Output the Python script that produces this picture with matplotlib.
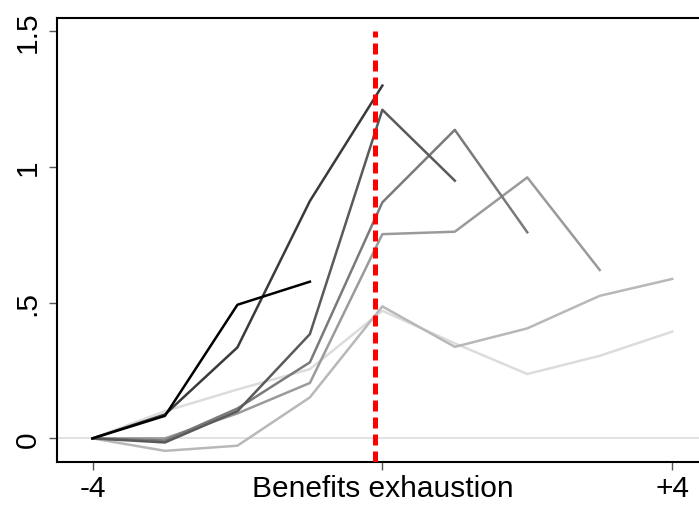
import numpy as np
import matplotlib.pyplot as plt

plt.rcParams['font.family'] = ['Liberation Sans', 'DejaVu Sans']

# periods relative to benefits exhaustion
periods = [-4, -3, -2, -1, 0, 1, 2, 3, 4]
tick_pos = [-4, 0, 4]
tick_labels = ['-4', 'Benefits exhaustion', '+4']
ytick_pos = [0, 0.5, 1, 1.5]
ytick_labels = ['0', '.5', '1', '1.5']

# one profile per group, each followed for a different number of periods
group_1 = [0, 0.083, 0.492, 0.577]
group_2 = [0, 0.088, 0.335, 0.874, 1.299]
group_3 = [0, -0.015, 0.100, 0.384, 1.210, 0.949]
group_4 = [0, -0.008, 0.110, 0.280, 0.869, 1.136, 0.759]
group_5 = [0, 0.000, 0.092, 0.204, 0.752, 0.761, 0.961, 0.620]
group_6 = [0, -0.046, -0.027, 0.151, 0.486, 0.337, 0.405, 0.525, 0.587]
group_7 = [0, 0.100, 0.180, 0.255, 0.470, 0.350, 0.237, 0.304, 0.393]

groups = [group_1, group_2, group_3, group_4, group_5, group_6, group_7]
shades = ['#000000', '#3a3a3a', '#5a5a5a', '#7a7a7a', '#9a9a9a', '#b8b8b8', '#dcdcdc']

exhaustion_x = -0.10

fig = plt.figure(figsize=(6.99, 5.06), dpi=100)
ax = fig.add_axes([57 / 699, 43 / 506, 642 / 699, 444 / 506])

ax.axhline(0, color='#dddddd', lw=1.2, zorder=1)

# lightest drawn first so darker profiles sit on top
for vals, col in reversed(list(zip(groups, shades))):
    ax.plot(periods[:len(vals)], vals, color=col, lw=1.8, zorder=2)

ax.set_xlim(-4.49, 4.37)
ax.set_ylim(-0.087, 1.548)

ax.vlines(exhaustion_x, -0.087, 1.5, color='#ff0000', lw=3.6,
          linestyles=(0, (2.2, 1.2)), capstyle='butt', zorder=3)

ax.set_xticks(tick_pos)
ax.set_xticklabels(tick_labels)
ax.set_yticks(ytick_pos)
ax.set_yticklabels(ytick_labels, rotation=90, va='center')

ax.tick_params(axis='both', labelsize=21.5, length=6, width=1, color='#555555')
ax.tick_params(axis='x', pad=3)
ax.tick_params(axis='y', pad=5)

ax.spines['right'].set_visible(False)
for s in ['left', 'top', 'bottom']:
    ax.spines[s].set_linewidth(1.5)

fig.savefig('out.png', dpi=100)
